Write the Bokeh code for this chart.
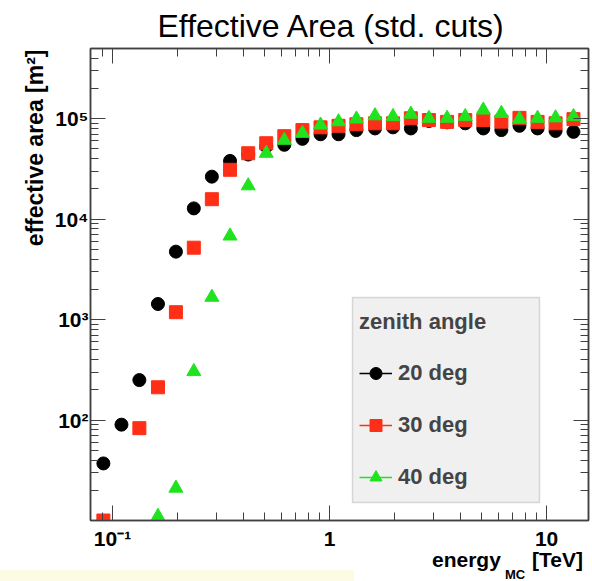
import numpy as np
from bokeh.embed import file_html
from bokeh.layouts import column
from bokeh.models import (BoxAnnotation, ColumnDataSource, Div, FixedTicker,
                          Legend, LegendItem, LogAxis, Range1d, Title)
from bokeh.plotting import figure
from bokeh.resources import INLINE

# --- data -----------------------------------------------------------------
# log-binned Monte Carlo energy (bin centres, TeV)
energy_tev = [0.0908, 0.110, 0.133, 0.162, 0.196, 0.237, 0.287, 0.348, 0.422,
              0.511, 0.619, 0.750, 0.909, 1.10, 1.33, 1.62, 1.96, 2.37, 2.87,
              3.48, 4.22, 5.11, 6.19, 7.50, 9.09, 11.0, 13.3]

# effective area [m^2] per zenith angle (nan = empty bin)
area_20deg = [37, 90, 250, 1430, 4750, 12800, 26500, 38000, 44000,
              53000, 55000, 63000, 70000, 70000, 77000, 80000, 82000, 80000,
              95000, 92000, 90000, 80000, 77000, 85000, 80000, 75500, 74000]
area_30deg = [10, float("nan"), 83, 212, 1185, 5200, 15800, 31000, 45300,
              57000, 67000, 77000, 82000, 85000, 88000, 90000, 90000, 101000,
              97000, 93000, 97000, 97000, 93500, 102000, 93000, 90000, 99000]
area_40deg = [float("nan"), float("nan"), float("nan"), 11, 21, 304, 1670,
              6800, 21500, 45300, 61000, 71600, 86500, 93300, 99400, 107000,
              105000, 111000, 101000, 101000, 105000, 122000, 113000, 99000,
              101000, 102000, 105000]

zenith_labels = ["20 deg", "30 deg", "40 deg"]
series_colors = ["#000000", "#ff2f17", "#1fe31f"]
series_markers = ["circle", "square", "triangle"]
series_sizes = [13, 13, 14]

x_major = [0.1, 1, 10]
x_minor = [0.09, 0.2, 0.3, 0.4, 0.5, 0.6, 0.7, 0.8, 0.9,
           2, 3, 4, 5, 6, 7, 8, 9]
x_tick_text = {0.1: "10\u207b\u00b9", 1: "1", 10: "10"}

y_major = [100, 1000, 10000, 100000]
y_minor = [m * 10 ** e for e in range(1, 5) for m in range(2, 10)] + [200000, 300000, 400000]
y_tick_text = {100: "10\u00b2", 1000: "10\u00b3", 10000: "10\u2074", 100000: "10\u2075"}

FONT = "Liberation Sans"
FRAME = "#404040"

# --- main plot ------------------------------------------------------------
p = figure(width=592, height=553,
           x_axis_type="log", y_axis_type="log",
           x_range=Range1d(0.0792, 15.6), y_range=Range1d(10, 5e5),
           output_backend="svg", toolbar_location=None,
           min_border_left=90, min_border_right=4,
           min_border_top=48, min_border_bottom=33,
           background_fill_color="white", border_fill_color="white",
           outline_line_color=FRAME, outline_line_width=1.5)
p.grid.visible = False

p.title.text = "Effective Area (std. cuts)"
p.title.text_font = FONT
p.title.text_font_size = "32px"
p.title.text_font_style = "normal"
p.title.text_color = "black"
p.title.align = "left"
p.title.offset = 67
p.title.standoff = 10


def style_axis(ax, labels, show_labels=True):
    ax.axis_line_color = FRAME
    ax.axis_line_width = 1.5
    ax.major_tick_in = 15
    ax.major_tick_out = 0
    ax.minor_tick_in = 8
    ax.minor_tick_out = 0
    ax.major_tick_line_color = FRAME
    ax.minor_tick_line_color = FRAME
    ax.major_tick_line_width = 1
    ax.minor_tick_line_width = 1
    ax.major_label_overrides = labels
    if show_labels:
        ax.major_label_text_font = FONT
        ax.major_label_text_font_style = "bold"
        ax.major_label_text_font_size = "21px"
        ax.major_label_text_color = "black"
    else:
        # mirrored frame ticks only
        ax.major_label_text_font_size = "1px"
        ax.major_label_text_color = None
        ax.major_label_standoff = 0


xt = FixedTicker(ticks=x_major, minor_ticks=x_minor)
yt = FixedTicker(ticks=y_major, minor_ticks=y_minor)

p.xaxis[0].ticker = xt
p.yaxis[0].ticker = yt
style_axis(p.xaxis[0], x_tick_text)
style_axis(p.yaxis[0], y_tick_text)
p.xaxis[0].major_label_standoff = 6
p.yaxis[0].major_label_standoff = 2

top_axis = LogAxis(ticker=xt)
right_axis = LogAxis(ticker=yt)
style_axis(top_axis, {t: "" for t in x_major}, show_labels=False)
style_axis(right_axis, {t: "" for t in y_major}, show_labels=False)
p.add_layout(top_axis, "above")
p.add_layout(right_axis, "right")

# y axis title, placed at the top end of the axis
p.add_layout(Title(text="effective area [m\u00b2]", align="right", offset=1,
                   standoff=7, text_font=FONT, text_font_style="bold",
                   text_font_size="23px", text_color="black"), "left")

# --- points ---------------------------------------------------------------
legend_items = []
for label, values, color, marker, size in zip(zenith_labels,
                                              [area_20deg, area_30deg, area_40deg],
                                              series_colors, series_markers, series_sizes):
    src = ColumnDataSource(dict(energy=np.array(energy_tev, dtype=float),
                                area=np.array(values, dtype=float)))
    pts = p.scatter("energy", "area", source=src, marker=marker, size=size,
                    fill_color=color, line_color=color)
    # legend key line (a single empty point, nothing drawn in the plot)
    key = p.line("energy", "area",
                 source=ColumnDataSource(dict(energy=np.array([np.nan]),
                                              area=np.array([np.nan]))),
                 line_color=color, line_width=1.5)
    legend_items.append(LegendItem(label=label, renderers=[key, pts]))

# legend box
p.add_layout(BoxAnnotation(left=262, right=449, bottom=18, top=223,
                           left_units="screen", right_units="screen",
                           bottom_units="screen", top_units="screen",
                           fill_color="#f0f0f0", fill_alpha=1.0,
                           line_color="#8a8a8a", line_width=1.5))

legend = Legend(items=legend_items, location=(269, 28),
                title="zenith angle", title_text_font=FONT,
                title_text_font_style="bold", title_text_font_size="22px",
                title_standoff=23,
                label_text_font=FONT, label_text_font_style="bold",
                label_text_font_size="22px",
                glyph_width=33, glyph_height=30, label_height=30,
                label_standoff=6, spacing=22, padding=0, margin=0,
                border_line_color=None, background_fill_alpha=0.0)
p.add_layout(legend)

# --- x axis title (energy with MC subscript) and the pale band below ------
span = ("position:absolute;white-space:nowrap;color:black;"
        "font-family:'Liberation Sans';font-weight:bold;")
x_title = Div(width=592, height=28, margin=0, text=(
    '<div style="position:relative;width:592px;height:28px;">'
    '<div style="position:absolute;left:0px;top:17px;width:354px;height:11px;'
    'background:#fefbe4;"></div>'
    f'<span style="{span}left:432px;top:-4px;font-size:21px;line-height:21px;">energy</span>'
    f'<span style="{span}left:505px;top:15px;font-size:13px;line-height:13px;">MC</span>'
    f'<span style="{span}left:532px;top:-4px;font-size:21px;line-height:21px;">[TeV]</span>'
    '</div>'))

page = column(p, x_title, spacing=0)
open("out.html", "w").write(file_html(page, INLINE))
